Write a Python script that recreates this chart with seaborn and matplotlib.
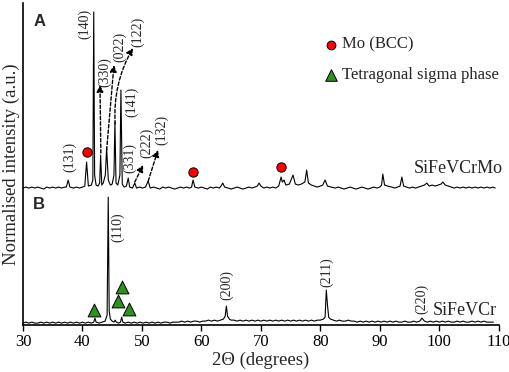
import matplotlib
matplotlib.use("Agg")
import numpy as np
import pandas as pd
import seaborn as sns
import matplotlib.pyplot as plt

# -------------------------------
# Data (2-theta in degrees, intensity in a.u.)
# -------------------------------
pattern_a = [  # SiFeVCrMo
    (30.0, 137), (30.5, 138), (31.0, 137), (31.5, 138), (32.0, 137), (32.5, 138),
    (33.0, 137), (33.5, 136), (34.0, 138), (34.5, 137), (35.0, 138), (35.5, 137),
    (36.0, 138), (36.5, 137), (37.0, 138), (37.3, 138), (37.6, 145), (37.9, 138),
    (38.5, 137), (39.0, 138), (39.5, 137), (40.0, 138), (40.4, 139), (40.7, 163),
    (41.0, 139), (41.5, 140), (41.75, 145), (41.9, 313), (42.05, 150), (42.3, 140),
    (42.6, 139), (42.9, 142), (43.06, 170), (43.25, 140), (43.5, 142), (43.85, 150),
    (44.07, 177), (44.35, 145), (44.7, 140), (45.0, 141), (45.3, 150), (45.46, 203),
    (45.65, 142), (45.95, 140), (46.3, 150), (46.47, 235), (46.7, 141), (47.0, 138),
    (47.4, 139), (47.7, 147), (47.95, 138), (48.4, 137), (48.8, 142), (49.1, 137),
    (49.6, 138), (50.1, 137), (50.6, 138), (51.06, 144), (51.4, 137), (52.0, 138),
    (52.5, 137), (53.0, 136), (53.5, 138), (54.0, 137), (54.5, 138), (55.0, 137),
    (55.5, 136), (56.0, 137), (56.5, 138), (57.0, 137), (57.5, 138), (58.0, 137),
    (58.35, 138), (58.6, 145), (58.9, 138), (59.5, 137), (60.0, 138), (60.5, 137),
    (61.0, 136), (61.5, 138), (62.0, 137), (62.5, 138), (63.0, 137), (63.3, 139),
    (63.6, 142), (63.9, 138), (64.5, 137), (65.0, 136), (65.5, 137), (66.0, 138),
    (66.5, 137), (67.0, 136), (67.5, 137), (68.0, 138), (68.5, 137), (69.0, 138),
    (69.4, 139), (69.7, 142), (70.0, 139), (70.5, 137), (71.0, 138), (71.5, 137),
    (72.0, 138), (72.5, 137), (73.0, 139), (73.4, 148), (73.6, 143), (73.9, 145),
    (74.2, 140), (74.8, 141), (75.4, 150), (75.8, 141), (76.3, 140), (76.8, 141),
    (77.4, 143), (77.7, 155), (78.0, 142), (78.5, 140), (79.0, 139), (79.5, 138),
    (80.0, 139), (80.4, 140), (80.8, 145), (81.2, 139), (81.8, 138), (82.5, 137),
    (83.0, 138), (83.5, 137), (84.0, 136), (84.5, 137), (85.0, 138), (85.5, 137),
    (86.0, 136), (86.5, 137), (87.0, 138), (87.5, 137), (88.0, 136), (88.5, 137),
    (89.0, 138), (89.5, 137), (90.0, 138), (90.3, 140), (90.5, 151), (90.8, 140),
    (91.3, 139), (92.0, 138), (92.5, 137), (93.0, 138), (93.4, 139), (93.7, 148),
    (94.0, 139), (94.5, 138), (95.0, 137), (95.5, 138), (96.0, 137), (96.5, 138),
    (97.0, 139), (97.5, 140), (97.9, 142), (98.3, 139), (98.8, 140), (99.3, 139),
    (99.8, 140), (100.3, 141), (100.6, 143), (101.0, 140), (101.5, 139), (102.0, 138),
    (102.5, 137), (103.0, 138), (103.5, 137), (104.0, 138), (104.5, 137), (105.0, 138),
    (105.5, 137), (106.0, 138), (106.5, 137), (107.0, 138), (107.5, 137), (108.0, 138),
    (108.5, 137), (109.0, 138), (109.4, 137),
]

pattern_b = [  # SiFeVCr
    (30.0, 2), (30.5, 3), (31.0, 2), (31.5, 3), (32.0, 2), (32.5, 2), (33.0, 3),
    (33.5, 2), (34.0, 3), (34.5, 2), (35.0, 3), (35.5, 2), (36.0, 3), (36.5, 2),
    (37.0, 3), (37.5, 2), (38.0, 3), (38.5, 2), (39.0, 3), (39.5, 2), (40.0, 3),
    (40.5, 2), (41.0, 3), (41.5, 2), (41.9, 3), (42.1, 7), (42.3, 3), (42.8, 2),
    (43.3, 3), (43.8, 4), (44.15, 10), (44.34, 128), (44.5, 14), (44.7, 6), (45.0, 4),
    (45.3, 3), (45.5, 5), (45.7, 3), (46.1, 2), (46.4, 3), (46.6, 8), (46.8, 3),
    (47.2, 2), (47.7, 3), (48.2, 2), (48.7, 3), (49.2, 2), (49.7, 3), (50.2, 2),
    (50.7, 3), (51.2, 2), (51.7, 3), (52.2, 2), (52.7, 3), (53.2, 2), (53.7, 3),
    (54.2, 3), (54.7, 2), (55.2, 3), (55.7, 3), (56.2, 3), (56.7, 4), (57.2, 3),
    (57.7, 4), (58.2, 3), (58.7, 4), (59.2, 4), (59.7, 3), (60.2, 4), (60.7, 4),
    (61.2, 5), (61.7, 4), (62.2, 5), (62.7, 4), (63.2, 5), (63.7, 6), (64.0, 9),
    (64.2, 19), (64.4, 9), (64.7, 6), (65.0, 5), (65.5, 5), (66.0, 4), (66.5, 5),
    (67.0, 4), (67.5, 5), (68.0, 4), (68.5, 5), (69.0, 4), (69.5, 5), (70.0, 4),
    (70.5, 5), (71.0, 4), (71.5, 5), (72.0, 4), (72.5, 5), (73.0, 4), (73.5, 5),
    (74.0, 4), (74.5, 5), (75.0, 4), (75.5, 5), (76.0, 4), (76.5, 5), (77.0, 4),
    (77.5, 5), (78.0, 4), (78.5, 5), (79.0, 4), (79.5, 5), (80.0, 5), (80.5, 6),
    (80.8, 8), (81.0, 35), (81.2, 20), (81.4, 8), (81.7, 6), (82.2, 5), (82.7, 4),
    (83.2, 5), (83.7, 4), (84.2, 4), (84.7, 5), (85.2, 4), (85.7, 4), (86.2, 3),
    (86.7, 4), (87.2, 3), (87.7, 4), (88.2, 3), (88.7, 4), (89.2, 3), (89.7, 4),
    (90.2, 3), (90.7, 4), (91.2, 3), (91.7, 4), (92.2, 3), (92.7, 4), (93.2, 3),
    (93.7, 3), (94.2, 4), (94.7, 3), (95.2, 3), (95.7, 4), (96.2, 3), (96.7, 4),
    (97.1, 7), (97.5, 4), (98.0, 3), (98.5, 4), (99.0, 3), (99.5, 4), (100.0, 3),
    (100.5, 4), (101.0, 3), (101.5, 4), (102.0, 3), (102.5, 3), (103.0, 4),
    (103.5, 3), (104.0, 4), (104.5, 3), (105.0, 3), (105.5, 4), (106.0, 3),
    (106.5, 4), (107.0, 3), (107.5, 4), (108.0, 3), (108.5, 3), (109.1, 3),
]

# Mo (BCC) markers over pattern A, sigma-phase markers over pattern B
mo_theta = [40.7, 58.6, 73.4]
mo_height = [173, 153, 158]
sigma_theta = [41.9, 45.9, 46.7, 47.8]
sigma_height = [15, 24, 38, 16]

# peak labels: text, x, y (text centre), arrow tail (or None)
peak_labels = [
    ("(131)", 37.8, 168, None),
    ("(140)", 40.4, 301, None),
    ("(330)", 43.8, 253, (43.1, 172)),
    ("(022)", 46.2, 278, (44.07, 175)),
    ("(122)", 49.3, 293, (45.5, 201)),
    ("(141)", 48.3, 223, None),
    ("(331)", 47.9, 167, None),
    ("(222)", 50.8, 182, (48.8, 143)),
    ("(132)", 53.3, 195, (51.06, 144)),
    ("(110)", 45.85, 98, None),
    ("(200)", 64.2, 40, None),
    ("(211)", 81.0, 53, None),
    ("(220)", 97.1, 26, None),
]
# arrow heads for the arrowed labels
arrow_heads = {
    "(330)": (42.95, 240),
    "(022)": (45.3, 260),
    "(122)": (48.5, 277),
    "(222)": (50.2, 160),
    "(132)": (52.7, 175),
}

MO_RED = "#ff0000"
SIGMA_GREEN = "#2f8f1f"

# -------------------------------
# Figure
# -------------------------------
sns.set_style("ticks")
plt.rcParams["font.family"] = ["Liberation Serif", "DejaVu Serif"]

fig = plt.figure(figsize=(5.10, 3.72), dpi=100)
ax = fig.add_axes([0.045, 0.126, 0.933, 0.866])

df_a = pd.DataFrame(pattern_a, columns=["two_theta", "intensity"])
df_b = pd.DataFrame(pattern_b, columns=["two_theta", "intensity"])
for df in (df_a, df_b):
    sns.lineplot(data=df, x="two_theta", y="intensity", ax=ax, color="black",
                 linewidth=0.8, estimator=None, sort=False)

sns.scatterplot(x=mo_theta, y=mo_height, ax=ax, marker="o", s=45,
                color=MO_RED, edgecolor="black", linewidth=0.7, zorder=5)
sns.scatterplot(x=sigma_theta, y=sigma_height, ax=ax, marker="^", s=85,
                color=SIGMA_GREEN, edgecolor="black", linewidth=0.7, zorder=5)

# peak index labels + dashed arrows
for text, tx, ty, tail in peak_labels:
    ax.text(tx, ty, text, rotation=90, ha="center", va="center", fontsize=10)
    if tail is not None:
        head = arrow_heads[text]
        rad = -0.15 if text == "(122)" else 0.0
        ax.annotate("", xy=head, xytext=tail,
                    arrowprops=dict(arrowstyle="-|>,head_length=0.4,head_width=0.2",
                                    linestyle=(0, (2.5, 1.5)), color="black",
                                    linewidth=1.0, shrinkA=0, shrinkB=0,
                                    connectionstyle=f"arc3,rad={rad}"))

# sample names
ax.text(110.6, 157, "SiFeVCrMo", ha="right", va="center", fontsize=13)
ax.text(109.6, 15, "SiFeVCr", ha="right", va="center", fontsize=13)

# hand-made legend
ax.scatter([0.647], [0.870], transform=ax.transAxes, marker="o", s=40,
           color=MO_RED, edgecolor="black", linewidth=0.7, clip_on=False)
ax.scatter([0.647], [0.777], transform=ax.transAxes, marker="^", s=70,
           color=SIGMA_GREEN, edgecolor="black", linewidth=0.7, clip_on=False)
ax.text(0.671, 0.870, "Mo (BCC)", transform=ax.transAxes, ha="left",
        va="center", fontsize=12)
ax.text(0.671, 0.777, "Tetragonal sigma phase", transform=ax.transAxes,
        ha="left", va="center", fontsize=12)

# panel letters
for letter, ypos in (("A", 0.944), ("B", 0.373)):
    ax.text(0.034, ypos, letter, transform=ax.transAxes, ha="center",
            va="center", fontsize=12, fontweight="bold",
            family=["Liberation Sans", "DejaVu Sans"])

ax.set_xlim(30, 110)
ax.set_ylim(0, 322)
ax.set_xticks(range(30, 111, 10))
ax.set_yticks([])
ax.tick_params(axis="x", direction="out", length=4, width=1.0, labelsize=12,
               pad=2.5, colors="black")
ax.spines["top"].set_visible(False)
ax.spines["right"].set_visible(False)
for side in ("left", "bottom"):
    ax.spines[side].set_linewidth(1.2)
    ax.spines[side].set_color("black")

ax.set_xlabel("2Θ (degrees)", fontsize=13.5, labelpad=1)
ax.set_ylabel("Normalised intensity (a.u.)", fontsize=13.5, labelpad=2)

fig.savefig("out.png", dpi=100)
